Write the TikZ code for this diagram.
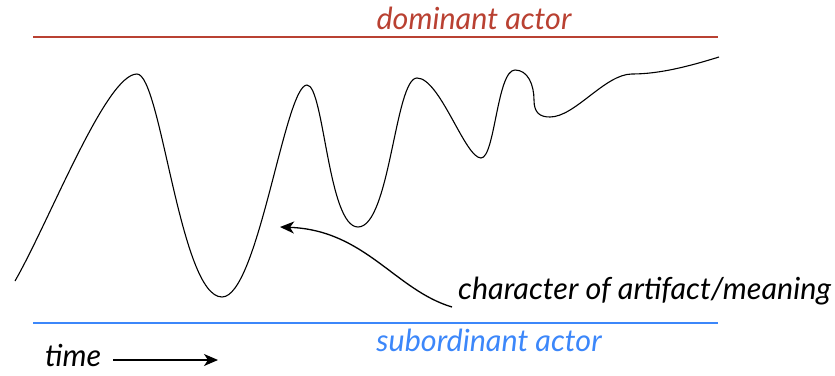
\documentclass[tikz,border=0pt]{standalone}
\usepackage{fontspec}
\setmainfont{Lato}
\usetikzlibrary{arrows.meta}
\definecolor{domred}{RGB}{185,65,50}
\definecolor{subblue}{RGB}{60,135,250}
\tikzset{
  lbl/.style={font=\fontsize{30.5}{34}\selectfont\itshape, inner sep=0pt, anchor=base},
  actorline/.style={line width=1.8pt},
  curve/.style={line width=1.1pt, black},
  pointer/.style={line width=1.3pt, -{Stealth[length=14pt,width=12pt,inset=4pt]}}
}
\begin{document}
\begin{tikzpicture}[x=1pt,y=-1pt]
\useasboundingbox (0,0) rectangle (835,375);
% actor lines
\draw[actorline, domred] (33,37) -- (718,37);
\draw[actorline, subblue] (33,323) -- (718,323);
\node[lbl, text=domred] (dom) at (474,29) {dominant actor};
\node[lbl, text=subblue] (sub) at (489,351) {subordinant actor};
% curve
\draw[curve] (15,281)
  .. controls (50,220) and (106,74) .. (137,74)
  .. controls (161,74) and (180,297) .. (222,297)
  .. controls (258,297) and (285,85) .. (307,85)
  .. controls (324,85) and (328,227) .. (358,227)
  .. controls (390,227) and (395,78) .. (417,78)
  .. controls (440,78) and (465,158) .. (481,158)
  .. controls (495,158) and (497,70) .. (515,70)
  .. controls (528,70) and (534,85) .. (534,100)
  .. controls (534,113) and (540,117) .. (550,117)
  .. controls (575,117) and (605,74) .. (632,74)
  .. controls (660,74) and (690,66) .. (719,57);
% label and pointer
\node[lbl, anchor=base west] (char) at (458,299) {character of artifact/meaning};
\coordinate (tip) at (280,227);
\draw[pointer] ([xshift=-6pt,yshift=-8pt]char.base west) .. controls (395,290) and (365,230) .. (tip);
% time
\node[lbl, anchor=base west] (time) at (45,366) {time};
\coordinate (timeend) at (218,360);
\draw[pointer] (113,360) -- (timeend);
\end{tikzpicture}
\end{document}
